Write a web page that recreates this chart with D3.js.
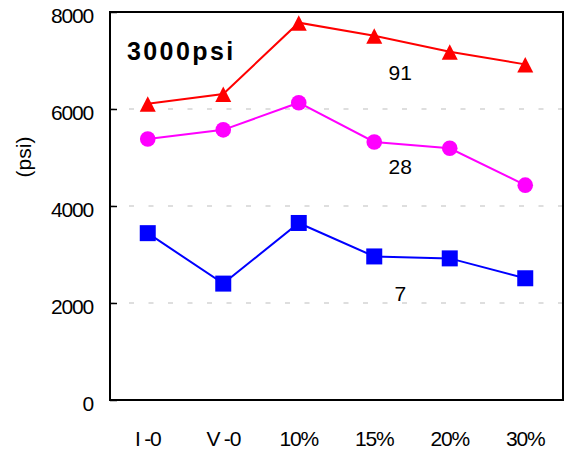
<!DOCTYPE html>
<html>
<head>
<meta charset="utf-8">
<script src="https://cdn.jsdelivr.net/npm/d3@7"></script>
<style>
  body { margin: 0; background: #fff; }
  text { font-family: "Liberation Sans", Arial, sans-serif; }
</style>
</head>
<body>
<div id="chart"></div>
<script>
// data
const categories = ['I -0', 'V -0', '10%', '15%', '20%', '30%'];
const series91 = [6110, 6310, 7780, 7510, 7180, 6920];
const series28 = [5380, 5570, 6130, 5320, 5190, 4430];
const series7 = [3440, 2400, 3650, 2960, 2920, 2510];
const seriesNames = ['91', '28', '7'];
const labelValues = [6600, 4650, 2050];   // psi level where each series name sits
const yTicks = [0, 2000, 4000, 6000, 8000];
const gridTicks = [2000, 4000, 6000];

const width = 565, height = 450;
const margin = { top: 12, right: 2, bottom: 50, left: 110 };

const svg = d3.select('#chart').append('svg')
  .attr('width', width)
  .attr('height', height);

const x = d3.scaleBand()
  .domain(categories)
  .range([margin.left, width - margin.right]);

const y = d3.scaleLinear()
  .domain([0, 8000])
  .range([height - margin.bottom, margin.top]);

const cx = d => x(d) + x.bandwidth() / 2;

// dashed grid
svg.append('g')
  .selectAll('line')
  .data(gridTicks)
  .enter().append('line')
  .attr('x1', margin.left)
  .attr('x2', width - margin.right)
  .attr('y1', d => y(d))
  .attr('y2', d => y(d))
  .attr('stroke', '#bdbdbd')
  .attr('stroke-width', 1)
  .attr('stroke-dasharray', '5,14.5')
  .attr('stroke-dashoffset', 0.5);

// y axis, ticks pointing inward
const yAxis = svg.append('g')
  .attr('transform', 'translate(' + margin.left + ',0)')
  .call(d3.axisLeft(y).tickValues(yTicks).tickFormat(d3.format('d')).tickSize(-7).tickPadding(17));
yAxis.select('.domain').remove();
yAxis.selectAll('line').attr('stroke', '#000').attr('stroke-width', 1.5);
yAxis.selectAll('text')
  .attr('dy', '0.48em')
  .style('font-size', '21px')
  .style('letter-spacing', '-1.2px')
  .style('font-family', '"Liberation Sans", Arial, sans-serif')
  .attr('fill', '#000');

// x axis labels
const xAxis = svg.append('g')
  .attr('transform', 'translate(0,' + (height - margin.bottom) + ')')
  .call(d3.axisBottom(x).tickSize(0).tickPadding(31));
xAxis.select('.domain').remove();
xAxis.selectAll('text')
  .style('font-size', '21px')
  .style('letter-spacing', '-1.2px')
  .style('font-family', '"Liberation Sans", Arial, sans-serif')
  .attr('fill', '#000');

// plot frame
svg.append('rect')
  .attr('x', margin.left)
  .attr('y', margin.top)
  .attr('width', width - margin.right - margin.left)
  .attr('height', height - margin.bottom - margin.top)
  .attr('fill', 'none')
  .attr('stroke', '#000')
  .attr('stroke-width', 2)
  .attr('shape-rendering', 'crispEdges');

const line = d3.line()
  .x((d, i) => cx(categories[i]))
  .y(d => y(d));

const allSeries = [
  { values: series91, color: '#ff0000', shape: 'triangle' },
  { values: series28, color: '#ff00ff', shape: 'circle' },
  { values: series7, color: '#0000ff', shape: 'square' }
];

allSeries.forEach((s, k) => {
  svg.append('path')
    .datum(s.values)
    .attr('d', line)
    .attr('fill', 'none')
    .attr('stroke', s.color)
    .attr('stroke-width', 2);

  const g = svg.append('g');
  s.values.forEach((v, i) => {
    const px = cx(categories[i]), py = y(v);
    if (s.shape === 'triangle') {
      g.append('path')
        .attr('d', 'M' + px + ',' + (py - 7.5) + 'L' + (px + 8) + ',' + (py + 8) + 'L' + (px - 8) + ',' + (py + 8) + 'Z')
        .attr('fill', s.color);
    } else if (s.shape === 'circle') {
      g.append('circle')
        .attr('cx', px).attr('cy', py).attr('r', 7.8)
        .attr('fill', s.color);
    } else {
      g.append('rect')
        .attr('x', px - 8).attr('y', py - 8)
        .attr('width', 16).attr('height', 16)
        .attr('fill', s.color);
    }
  });

  // series name
  svg.append('text')
    .attr('x', cx('15%') + 26)
    .attr('y', y(labelValues[k]))
    .attr('text-anchor', 'middle')
    .style('font-size', '21px')
    .attr('fill', '#000')
    .text(seriesNames[k]);
});

// title inside the plot
svg.append('text')
  .attr('x', 127)
  .attr('y', 60)
  .style('font-size', '25px')
  .style('font-weight', 'bold')
  .style('letter-spacing', '2.4px')
  .attr('fill', '#000')
  .text('3000psi');

// y axis title
svg.append('text')
  .attr('transform', 'translate(31,157) rotate(-90)')
  .attr('text-anchor', 'middle')
  .style('font-size', '21px')
  .attr('fill', '#000')
  .text('(psi)');
</script>
</body>
</html>
